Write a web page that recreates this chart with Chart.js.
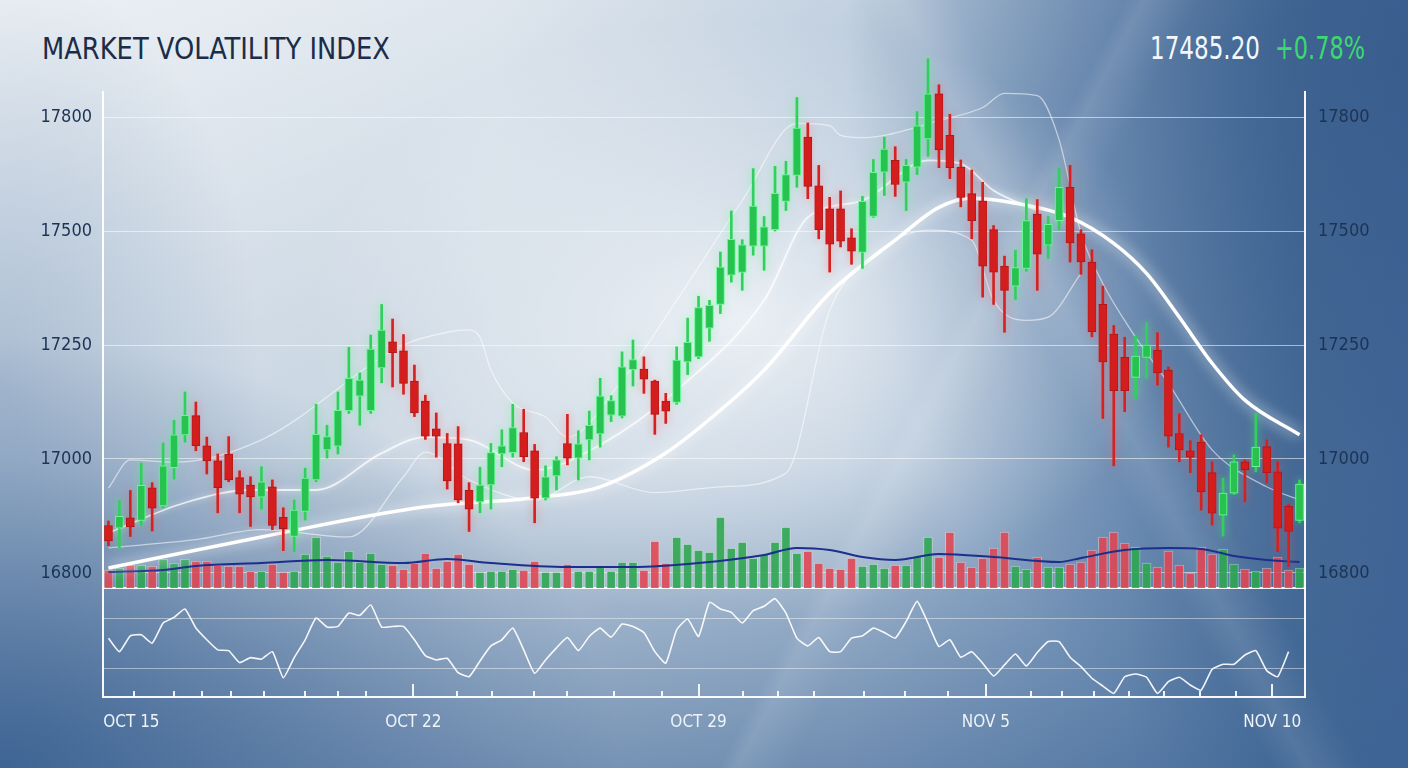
<!DOCTYPE html>
<html>
<head>
<meta charset="utf-8">
<title>Market Volatility Index</title>
<script src="https://cdn.jsdelivr.net/npm/chart.js@4.4.1/dist/chart.umd.min.js"></script>
<style>
  html, body { margin: 0; padding: 0; }
  body {
    width: 1408px; height: 768px; overflow: hidden; position: relative;
    font-family: 'DejaVu Sans Condensed', 'DejaVu Sans', sans-serif;
    background:
      linear-gradient(118deg, rgba(255,255,255,0) 62%, rgba(255,255,255,0.10) 63%, rgba(255,255,255,0) 66%),
      linear-gradient(62deg, rgba(255,255,255,0) 70%, rgba(255,255,255,0.10) 72%, rgba(255,255,255,0) 75%),
      radial-gradient(ellipse 430px 300px at 740px 320px, rgba(255,255,255,0.7), rgba(255,255,255,0) 100%),
      radial-gradient(ellipse 620px 430px at 0px 768px, rgba(52,92,142,0.85), rgba(52,92,142,0) 100%),
      radial-gradient(ellipse 560px 760px at 1408px 60px, rgba(55,92,140,0.85), rgba(55,92,140,0) 100%),
      radial-gradient(ellipse 260px 420px at 0px 380px, rgba(90,125,168,0.35), rgba(90,125,168,0) 100%),
      linear-gradient(160deg, rgba(255,255,255,0.6) 0%, rgba(255,255,255,0) 38%),
      linear-gradient(to bottom, rgba(60,100,150,0) 60%, rgba(55,95,145,0.55) 100%),
      linear-gradient(to right, #cfdae5 0%, #cbd7e3 35%, #b3c5d8 60%, #7e9cbe 80%, #4c719b 92%, #46699a 100%);
  }
  canvas { position: absolute; left: 0; }
  #priceChart { top: 0; }
  #oscChart { top: 588px; }
  .txt {
    position: absolute; top: 32px; font-size: 32px; line-height: 32px;
    white-space: nowrap; transform-origin: left center;
  }
  #title { left: 42px; color: #1b2d48; font-size: 31px; }
  #last { left: 1150px; color: #f3f7fb; }
  #chg { left: 1275px; color: #3fd870; }
</style>
</head>
<body>
<div class="txt" id="title">MARKET VOLATILITY INDEX</div>
<div class="txt" id="last">17485.20</div>
<div class="txt" id="chg">+0.78%</div>
<canvas id="priceChart" width="1408" height="615"></canvas>
<canvas id="oscChart" width="1408" height="180"></canvas>

<script>
'use strict';

// candles, one per session
var opens = [
  16854, 16848, 16871, 16865, 16937, 16897, 16981, 17053, 17095, 17029,
  16996, 17011, 16959, 16943, 16916, 16939, 16872, 16830, 16885, 16954,
  17020, 17028, 17106, 17138, 17106, 17200, 17257, 17237, 17171, 17127,
  17066, 17034, 17033, 16931, 16906, 16943, 17011, 17014, 17058, 17018,
  16914, 16963, 17034, 17002, 17042, 17055, 17096, 17094, 17196, 17197,
  17171, 17127, 17124, 17213, 17224, 17287, 17339, 17403, 17409, 17467,
  17467, 17503, 17565, 17622, 17706, 17599, 17549, 17549, 17485, 17453,
  17532, 17629, 17655, 17607, 17640, 17702, 17801, 17710, 17640, 17582,
  17566, 17503, 17423, 17379, 17418, 17537, 17469, 17523, 17596, 17494,
  17432, 17339, 17274, 17223, 17179, 17223, 17239, 17195, 17056, 17018,
  17037, 16970, 16877, 16925, 16994, 16983, 17027, 16972, 16896, 16865
];
var highs = [
  16864, 16909, 16931, 16991, 16948, 17035, 17085, 17147, 17125, 17048,
  17011, 17049, 16974, 16961, 16983, 16954, 16893, 16910, 16980, 17120,
  17074, 17147, 17245, 17189, 17272, 17339, 17307, 17273, 17206, 17140,
  17101, 17056, 17071, 16948, 16982, 17034, 17064, 17120, 17109, 17032,
  16985, 17005, 17098, 17062, 17105, 17177, 17139, 17235, 17261, 17224,
  17173, 17144, 17246, 17309, 17357, 17348, 17454, 17544, 17481, 17637,
  17532, 17642, 17653, 17793, 17737, 17644, 17574, 17588, 17505, 17576,
  17657, 17706, 17685, 17657, 17762, 17878, 17821, 17756, 17656, 17634,
  17607, 17512, 17445, 17458, 17571, 17569, 17532, 17637, 17644, 17503,
  17459, 17379, 17293, 17267, 17269, 17299, 17277, 17202, 17099, 17040,
  17053, 16994, 16958, 17009, 16998, 17100, 17042, 16994, 16901, 16954
];
var lows = [
  16810, 16805, 16830, 16855, 16842, 16893, 16956, 17037, 17018, 16967,
  16882, 16950, 16882, 16852, 16890, 16845, 16799, 16797, 16866, 16950,
  17002, 17011, 17100, 17074, 17100, 17167, 17158, 17142, 17093, 17043,
  17004, 16934, 16904, 16841, 16882, 16890, 16983, 17004, 16994, 16860,
  16910, 16932, 16987, 16954, 16998, 17026, 17082, 17090, 17160, 17144,
  17054, 17078, 17120, 17185, 17220, 17258, 17319, 17388, 17370, 17447,
  17414, 17500, 17545, 17596, 17571, 17483, 17410, 17465, 17427, 17418,
  17530, 17578, 17576, 17545, 17624, 17664, 17639, 17615, 17553, 17483,
  17355, 17339, 17278, 17350, 17412, 17370, 17440, 17502, 17432, 17405,
  17268, 17089, 16985, 17104, 17133, 17177, 17162, 17026, 16994, 16970,
  16888, 16855, 16831, 16922, 16906, 16972, 16947, 16797, 16764, 16860
];
var closes = [
  16820, 16874, 16851, 16942, 16892, 16985, 17053, 17096, 17029, 16996,
  16937, 16954, 16923, 16917, 16950, 16854, 16847, 16888, 16958, 17054,
  17049, 17107, 17177, 17173, 17241, 17283, 17233, 17166, 17101, 17050,
  17050, 16952, 16910, 16890, 16943, 17014, 17029, 17069, 17005, 16914,
  16961, 16998, 17002, 17033, 17074, 17138, 17128, 17202, 17218, 17175,
  17098, 17105, 17217, 17256, 17332, 17337, 17421, 17482, 17470, 17555,
  17509, 17583, 17624, 17726, 17598, 17503, 17471, 17478, 17456, 17565,
  17629, 17680, 17602, 17644, 17731, 17801, 17678, 17639, 17574, 17523,
  17423, 17410, 17370, 17420, 17523, 17449, 17515, 17596, 17474, 17432,
  17279, 17213, 17150, 17150, 17226, 17250, 17189, 17050, 17020, 17004,
  16928, 16881, 16925, 16994, 16976, 17026, 16970, 16848, 16841, 16945
];
// volume, thousands
var volumes = [
  18, 20, 23, 23, 22, 29, 25, 29, 27, 27, 23, 22, 22, 17, 17, 24, 16, 17, 34, 51,
  32, 26, 37, 26, 35, 24, 23, 19, 25, 35, 20, 27, 34, 24, 16, 17, 17, 19, 18, 27,
  16, 16, 24, 17, 17, 23, 17, 26, 26, 18, 47, 25, 51, 44, 38, 36, 71, 40, 46, 30,
  34, 46, 61, 35, 37, 25, 20, 19, 30, 22, 24, 20, 23, 23, 32, 51, 31, 56, 26, 21,
  30, 40, 56, 22, 19, 31, 21, 21, 24, 26, 38, 51, 56, 45, 41, 25, 21, 37, 23, 15,
  41, 34, 39, 24, 19, 17, 20, 31, 18, 20
];
// [session index, value] pairs
var volAvgPts = [[0, 16], [5, 18], [8, 22], [14, 25], [20, 28], [27, 25], [31, 29], [35, 25],
  [42, 21], [48, 21], [54, 25], [60, 33], [63, 40], [66, 38], [69, 31], [72, 28], [76, 34],
  [81, 31], [87, 26], [89, 30], [93, 38], [97, 40], [100, 39], [103, 32], [106, 28], [109, 26]];
var maLongPts = [[0, 16761], [14, 16829], [29, 16895], [39, 16915], [45, 16939], [51, 17013],
  [56, 17107], [60, 17195], [66, 17364], [72, 17480], [76, 17552], [79, 17572], [83, 17561],
  [88, 17530], [92, 17473], [95, 17407], [98, 17311], [101, 17210], [104, 17129], [109, 17053]];
var maShortPts = [[0, 16838], [7, 16904], [13, 16932], [19, 16932], [25, 17013], [29, 17048],
  [33, 17042], [39, 16976], [45, 17031], [52, 17151], [60, 17348], [64, 17530], [69, 17567],
  [75, 17655], [78, 17648], [81, 17589], [85, 17545]];
var bandUpPts = [[0, 16936], [2, 16998], [6, 16993], [14, 17042], [27, 17250], [31, 17278],
  [33, 17283], [34, 17267], [35, 17195], [37, 17123], [40, 17092], [42, 17048], [47, 17173],
  [52, 17348], [58, 17567], [63, 17736], [66, 17731], [67, 17710], [69, 17705], [71, 17710],
  [76, 17742], [80, 17771], [82, 17802], [85, 17797], [87, 17700], [89, 17495], [91, 17385],
  [94, 17267], [97, 17166], [101, 17020], [106, 16939], [109, 16910]];
var bandLowPts = [[0, 16805], [8, 16823], [14, 16845], [22, 16829], [27, 16961], [29, 17015],
  [33, 16954], [39, 16910], [44, 16961], [50, 16926], [56, 16939], [62, 16969], [66, 17326],
  [70, 17447], [75, 17502], [79, 17480], [81, 17348], [84, 17304], [86, 17311], [89, 17407]];
// lower panel oscillator
var oscValues = [
  54.2, 43.6, 56.0, 56.8, 50.3, 66.1, 70.5, 77.1, 62.1, 52.9,
  45.0, 44.4, 35.0, 38.9, 37.7, 43.6, 23.1, 38.9, 52.9, 70.0,
  62.9, 63.4, 73.9, 72.1, 80.3, 62.9, 63.4, 63.4, 52.9, 40.5,
  37.1, 38.4, 27.1, 23.9, 36.3, 48.1, 52.9, 62.1, 45.0, 26.6,
  37.1, 46.6, 54.7, 44.4, 55.5, 62.1, 55.0, 65.3, 63.4, 58.6,
  43.6, 34.5, 60.8, 69.2, 55.5, 82.3, 77.1, 74.4, 66.1, 75.8,
  79.2, 85.2, 73.9, 54.2, 48.1, 54.7, 43.6, 43.6, 54.2, 56.0,
  62.1, 58.6, 54.2, 67.3, 83.1, 66.1, 47.6, 52.9, 39.2, 43.6,
  34.5, 24.5, 33.2, 41.8, 32.4, 42.9, 51.5, 51.5, 39.2, 31.8,
  22.7, 16.6, 10.8, 23.9, 26.1, 23.5, 10.8, 20.0, 23.5, 17.4,
  13.4, 29.8, 33.7, 33.7, 41.0, 44.4, 28.7, 23.9, 43.6, null
];

var priceTicks = [16750, 17000, 17250, 17500, 17750];
var priceTickText = ['16800', '17000', '17250', '17500', '17800'];
var oscTicks = [30, 70];
var dateTickIdx = [2.1, 27.9, 54, 80.3, 106.5];
var dateTickText = ['OCT 15', 'OCT 22', 'OCT 29', 'NOV 5', 'NOV 10'];
var dayTickIdx = [2.3, 6, 8.6, 11.2, 14.2, 18, 21, 23.6, 31.9, 35.1, 38.9, 42, 46.3, 50.7,
  58.1, 61.3, 64.6, 69.1, 72.9, 76.8, 84.4, 87.3, 90.2, 93.4, 96.6, 99.9, 103.2];

var FONT = "'DejaVu Sans Condensed', 'DejaVu Sans', sans-serif";
var N = opens.length;
var sessions = opens.map(function(_, i) { return String(i); });

function isUp(i) { return closes[i] >= opens[i]; }

function sparse(pts) {
  var out = new Array(N).fill(null);
  pts.forEach(function(p) { out[p[0]] = p[1]; });
  return out;
}

function pick(up, fn) {
  return opens.map(function(_, i) { return isUp(i) === up ? fn(i) : null; });
}

// squeeze header text to the narrow look of the original
function fitWidth(id, w) {
  var el = document.getElementById(id);
  el.style.transform = 'scaleX(' + (w / el.getBoundingClientRect().width) + ')';
}
fitWidth('title', 348);
fitWidth('last', 110);
fitWidth('chg', 90);

// nudge layout padding until the plot area sits on the wanted box
function pinArea(chart, box) {
  for (var k = 0; k < 3; k++) {
    var a = chart.chartArea, p = chart.options.layout.padding;
    var dt = box.top - a.top, db = a.bottom - box.bottom;
    var dl = box.left - a.left, dr = a.right - box.right;
    if (Math.abs(dt) + Math.abs(db) + Math.abs(dl) + Math.abs(dr) < 0.5) break;
    p.top += dt; p.bottom += db; p.left += dl; p.right += dr;
    chart.update();
  }
}

// soft glow round a dataset
var glowPlugin = {
  id: 'glow',
  beforeDatasetDraw: function(chart, args) {
    var ds = chart.data.datasets[args.index];
    if (!ds.glowColor) return;
    chart.ctx.save();
    chart.ctx.shadowColor = ds.glowColor;
    chart.ctx.shadowBlur = ds.glowBlur || 10;
  },
  afterDatasetDraw: function(chart, args) {
    var ds = chart.data.datasets[args.index];
    if (ds.glowColor) chart.ctx.restore();
  }
};

function overlay(label, pts, color, width, order, extra) {
  var ds = {
    type: 'line', label: label, data: sparse(pts), yAxisID: 'y',
    borderColor: color, borderWidth: width, pointRadius: 0,
    spanGaps: true, cubicInterpolationMode: 'monotone', order: order
  };
  return Object.assign(ds, extra || {});
}

Chart.defaults.font.family = FONT;

var priceAxisBase = {
  min: 16717, max: 17805,
  afterBuildTicks: function(axis) {
    axis.ticks = priceTicks.map(function(v) { return { value: v }; });
  },
  border: { display: true, color: 'rgba(255,255,255,0.95)', width: 2 },
  afterFit: function(axis) { axis.width = 103; }
};

var priceChart = new Chart(document.getElementById('priceChart'), {
  type: 'bar',
  data: {
    labels: sessions,
    datasets: [
      {
        label: 'Vol up', data: pick(true, function(i) { return volumes[i]; }), yAxisID: 'vol',
        backgroundColor: 'rgba(44,166,80,0.88)', borderColor: 'rgba(210,245,215,0.45)', borderWidth: 1,
        barThickness: 9, grouped: false, order: 20
      },
      {
        label: 'Vol down', data: pick(false, function(i) { return volumes[i]; }), yAxisID: 'vol',
        backgroundColor: 'rgba(224,70,82,0.88)', borderColor: 'rgba(255,215,220,0.45)', borderWidth: 1,
        barThickness: 9, grouped: false, order: 20
      },
      {
        type: 'line', label: 'Vol avg', data: sparse(volAvgPts), yAxisID: 'vol',
        borderColor: '#1d2f8c', borderWidth: 2, pointRadius: 0, spanGaps: true,
        cubicInterpolationMode: 'monotone', order: 15
      },
      overlay('Upper band', bandUpPts, 'rgba(255,255,255,0.55)', 1.3, 12),
      overlay('Lower band', bandLowPts, 'rgba(255,255,255,0.55)', 1.3, 12),
      overlay('MA short', maShortPts, 'rgba(255,255,255,0.75)', 1.8, 11, { glowColor: 'rgba(255,255,255,0.8)', glowBlur: 6 }),
      overlay('MA long', maLongPts, '#ffffff', 3.5, 10, { glowColor: 'rgba(255,255,255,1)', glowBlur: 14 }),
      {
        label: 'Wick up', data: pick(true, function(i) { return [lows[i], highs[i]]; }),
        backgroundColor: '#31d05c', barThickness: 2, grouped: false, clip: false, order: 6,
        glowColor: 'rgba(80,255,130,0.7)', glowBlur: 8
      },
      {
        label: 'Wick down', data: pick(false, function(i) { return [lows[i], highs[i]]; }),
        backgroundColor: '#d42222', barThickness: 2, grouped: false, clip: false, order: 5,
        glowColor: 'rgba(255,90,90,0.6)', glowBlur: 8
      },
      {
        label: 'Body up', data: pick(true, function(i) { return [opens[i], closes[i]]; }),
        backgroundColor: '#27c24f', borderColor: '#6ff59b', borderWidth: 1, borderSkipped: false,
        barThickness: 8, grouped: false, clip: false, order: 2,
        glowColor: 'rgba(90,255,140,0.8)', glowBlur: 12
      },
      {
        label: 'Body down', data: pick(false, function(i) { return [opens[i], closes[i]]; }),
        backgroundColor: '#d41d1d', borderColor: '#a80f12', borderWidth: 1, borderSkipped: false,
        barThickness: 8, grouped: false, clip: false, order: 1,
        glowColor: 'rgba(255,80,80,0.55)', glowBlur: 10
      }
    ]
  },
  options: {
    responsive: false,
    animation: false,
    events: [],
    layout: { padding: { top: 92, bottom: 27, left: 0, right: 0 } },
    plugins: { legend: { display: false }, tooltip: { enabled: false } },
    scales: {
      x: {
        type: 'category', offset: true,
        grid: { display: false, drawTicks: false },
        ticks: { display: false },
        border: { display: true, color: 'rgba(255,255,255,0.95)', width: 2 },
        afterFit: function(axis) { axis.height = 0; }
      },
      y: Object.assign({}, priceAxisBase, {
        position: 'left',
        grid: { color: 'rgba(255,255,255,0.55)', lineWidth: 1, drawTicks: false },
        ticks: {
          callback: function(v, i) { return priceTickText[i]; },
          color: '#1d3353', font: { size: 18 }, padding: 11
        }
      }),
      y2: Object.assign({}, priceAxisBase, {
        position: 'right',
        grid: { drawOnChartArea: false, drawTicks: false },
        ticks: {
          callback: function(v, i) { return priceTickText[i]; },
          color: '#1d3353', font: { size: 18 }, padding: 13
        }
      }),
      vol: { display: false, min: 0, max: 496 }
    }
  },
  plugins: [glowPlugin]
});
pinArea(priceChart, { top: 92, bottom: 588, left: 103, right: 1305 });

// day ticks standing up from the time axis
var dayTicksPlugin = {
  id: 'dayTicks',
  afterDraw: function(chart) {
    var x = chart.scales.x;
    var base = chart.chartArea.bottom;
    var ctx = chart.ctx;
    ctx.save();
    ctx.strokeStyle = 'rgba(255,255,255,0.9)';
    ctx.lineWidth = 2;
    ctx.beginPath();
    dayTickIdx.forEach(function(v) {
      var px = Math.round(x.getPixelForValue(v));
      ctx.moveTo(px, base);
      ctx.lineTo(px, base - 6);
    });
    dateTickIdx.slice(1).forEach(function(v) {
      var px = Math.round(x.getPixelForValue(v));
      ctx.moveTo(px, base);
      ctx.lineTo(px, base - 13);
    });
    ctx.stroke();
    ctx.restore();
  }
};

var oscSideBase = {
  min: 8, max: 92,
  border: { display: true, color: 'rgba(255,255,255,0.95)', width: 2 },
  afterFit: function(axis) { axis.width = 103; }
};

var oscChart = new Chart(document.getElementById('oscChart'), {
  type: 'line',
  data: {
    datasets: [{
      label: 'Oscillator',
      data: oscValues.map(function(v, i) { return { x: i, y: v }; }),
      borderColor: 'rgba(255,255,255,0.92)', borderWidth: 1.6,
      pointRadius: 0, tension: 0.15
    }]
  },
  options: {
    responsive: false,
    animation: false,
    events: [],
    layout: { padding: { top: 2, bottom: 0, left: 0, right: 0 } },
    plugins: { legend: { display: false }, tooltip: { enabled: false } },
    scales: {
      x: {
        type: 'linear', min: -0.5, max: N - 0.5,
        afterBuildTicks: function(axis) {
          axis.ticks = dateTickIdx.map(function(v) { return { value: v }; });
        },
        ticks: {
          callback: function(v, i) { return dateTickText[i]; },
          color: '#eef3f8', font: { size: 17 }, padding: 15,
          autoSkip: false, maxRotation: 0
        },
        grid: { display: false, drawTicks: false },
        border: { display: true, color: 'rgba(255,255,255,0.95)', width: 2 },
        afterFit: function(axis) { axis.height = 71; }
      },
      y: Object.assign({}, oscSideBase, {
        position: 'left',
        afterBuildTicks: function(axis) {
          axis.ticks = oscTicks.map(function(v) { return { value: v }; });
        },
        ticks: { display: false },
        grid: { color: 'rgba(255,255,255,0.45)', lineWidth: 1, drawTicks: false }
      }),
      y2: Object.assign({}, oscSideBase, {
        position: 'right',
        ticks: { display: false },
        grid: { display: false, drawTicks: false }
      })
    }
  },
  plugins: [dayTicksPlugin]
});
pinArea(oscChart, { top: 2, bottom: 109, left: 103, right: 1305 });
</script>
</body>
</html>
